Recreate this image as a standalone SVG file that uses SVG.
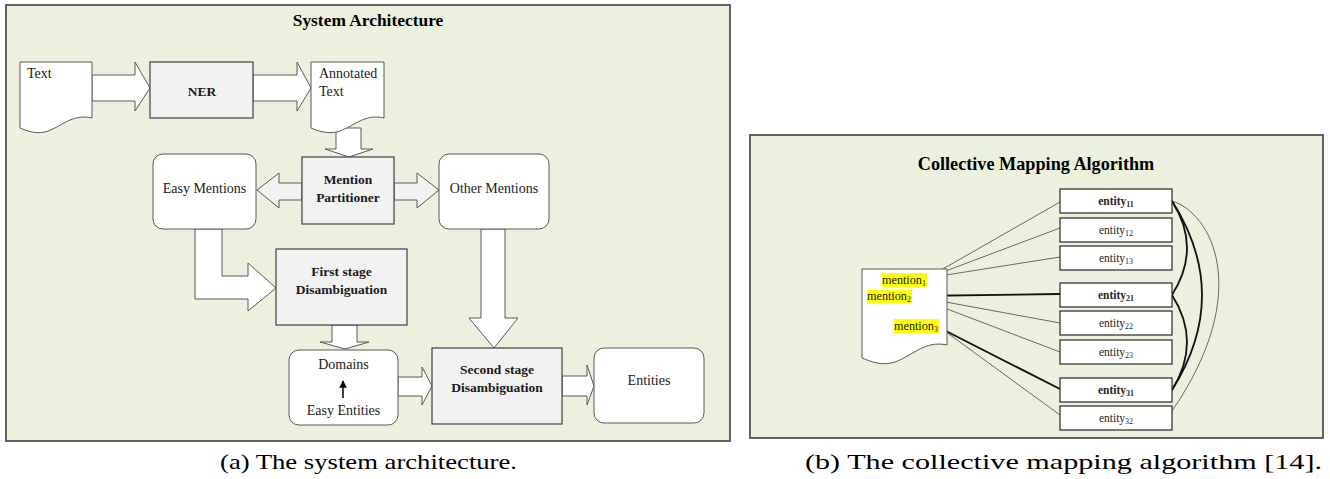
<svg xmlns="http://www.w3.org/2000/svg" width="1330" height="479" viewBox="0 0 1330 479">
<defs>
<style>
.panel{fill:#ebf1de;stroke:#3f3f3f;stroke-width:1.6}
.blk{fill:#ffffff;stroke:#595959;stroke-width:1}
.gblk{fill:#f2f2f2;stroke:#595959;stroke-width:1}
.box{fill:#f2f2f2;stroke:#404040;stroke-width:1.2}
.rbox{fill:#ffffff;stroke:#595959;stroke-width:1}
.doc{fill:#ffffff;stroke:#595959;stroke-width:1}
.t{font-family:"Liberation Serif","Times New Roman",serif;font-size:14px;fill:#1a1a1a}
.b{font-family:"Liberation Serif","Times New Roman",serif;font-size:13.5px;font-weight:bold;fill:#1a1a1a}
.ttl{font-family:"Liberation Serif","Times New Roman",serif;font-weight:bold;fill:#000}
.ent{fill:#ffffff;stroke:#262626;stroke-width:1.2}
.et{font-family:"Liberation Serif","Times New Roman",serif;font-size:11.5px;fill:#262626}
.mt{font-family:"Liberation Serif","Times New Roman",serif;font-size:12.2px;fill:#1a1a1a}
.hl{fill:#ffff00}
.thin{fill:none;stroke:#595959;stroke-width:0.9}
.thick{fill:none;stroke:#111111;stroke-width:1.8}
.cap{font-family:"Liberation Serif","Times New Roman",serif;font-size:21px;fill:#000}
</style>
<marker id="ah" viewBox="0 0 10 10" refX="9" refY="5" markerWidth="5" markerHeight="5" orient="auto">
<path d="M0,0 L10,5 L0,10 Z" fill="#000"/>
</marker>
</defs>

<!-- Panel (a) -->
<rect class="panel" x="6" y="5" width="724" height="436"/>
<text class="ttl" x="368" y="26" font-size="17.4" text-anchor="middle">System Architecture</text>

<g id="connectors-a">
<polygon class="blk" points="92,75 135,75 135,62 150,88 135,111 135,101 92,101"/>
<polygon class="blk" points="253,75 297,75 297,62 311,88 297,111 297,101 253,101"/>
<polygon class="blk" points="336,128 361,128 361,149 373,149 349,157 325,149 336,149"/>
<polygon class="gblk" points="302,183 279,183 279,173 257,190 279,208 279,200 302,200"/>
<polygon class="gblk" points="394,183 417,183 417,173 439,190 417,208 417,200 394,200"/>
<polygon class="blk" points="195,229 222,229 222,276 248,276 248,263 276,288 248,311 248,299 195,299"/>
<polygon class="blk" points="332,325 357,325 357,342 369,342 345,349 320,342 332,342"/>
<polygon class="blk" points="398,377 422,377 422,367 432,386 422,405 422,396 398,396"/>
<polygon class="blk" points="481,229 505,229 505,318 518,318 494,348 469,318 481,318"/>
<polygon class="blk" points="562,376 587,376 587,365 594,386 587,405 587,396 562,396"/>
</g>

<g id="text-doc">
<path class="doc" d="M20,62 H92 V118 C72,113 60,128 45,132 C35,134 27,131 20,128 Z"/>
<text class="t" x="27" y="78">Text</text>
</g>
<g id="ner">
<rect class="box" x="150" y="62" width="103" height="56"/>
<text class="b" x="202" y="96" text-anchor="middle">NER</text>
</g>
<g id="annotated-text">
<path class="doc" d="M311,62 H384 V118 C364,113 352,128 337,132 C327,134 318,131 311,128 Z"/>
<text class="t" x="319" y="78">Annotated</text>
<text class="t" x="319" y="96">Text</text>
</g>
<g id="mention-partitioner">
<rect class="box" x="302" y="157" width="92" height="67"/>
<text class="b" x="348" y="184" text-anchor="middle">Mention</text>
<text class="b" x="348" y="202" text-anchor="middle">Partitioner</text>
</g>
<g id="easy-mentions">
<rect class="rbox" x="153" y="154" width="103" height="75" rx="10"/>
<text class="t" x="204.5" y="193" text-anchor="middle">Easy Mentions</text>
</g>
<g id="other-mentions">
<rect class="rbox" x="439" y="154" width="110" height="75" rx="10"/>
<text class="t" x="494" y="193" text-anchor="middle">Other Mentions</text>
</g>
<g id="first-stage">
<rect class="box" x="276" y="249" width="131" height="76"/>
<text class="b" x="341.5" y="276" text-anchor="middle">First stage</text>
<text class="b" x="341.5" y="294" text-anchor="middle">Disambiguation</text>
</g>
<g id="domains">
<rect class="rbox" x="289" y="350" width="109" height="75" rx="10"/>
<text class="t" x="343.5" y="369" text-anchor="middle">Domains</text>
<line x1="343" y1="398" x2="343" y2="381" stroke="#000" stroke-width="1.5" marker-end="url(#ah)"/>
<text class="t" x="343.5" y="415" text-anchor="middle">Easy Entities</text>
</g>
<g id="second-stage">
<rect class="box" x="432" y="348" width="130" height="76"/>
<text class="b" x="497" y="374" text-anchor="middle">Second stage</text>
<text class="b" x="497" y="392" text-anchor="middle">Disambiguation</text>
</g>
<g id="entities">
<rect class="rbox" x="594" y="348" width="110" height="75" rx="10"/>
<text class="t" x="649" y="385" text-anchor="middle">Entities</text>
</g>

<!-- Panel (b) -->
<rect class="panel" x="750" y="135" width="573" height="303"/>
<text class="ttl" x="1036" y="170" font-size="18.2" text-anchor="middle">Collective Mapping Algorithm</text>

<g id="connectors-b">
<line class="thin" x1="927" y1="278" x2="1060" y2="202"/>
<line class="thin" x1="927" y1="278" x2="1060" y2="228"/>
<line class="thin" x1="927" y1="278" x2="1060" y2="257"/>
<line class="thick" x1="913" y1="296" x2="1060" y2="294"/>
<line class="thin" x1="913" y1="296" x2="1060" y2="323"/>
<line class="thin" x1="913" y1="296" x2="1060" y2="352"/>
<line class="thick" x1="942" y1="329" x2="1060" y2="389"/>
<line class="thin" x1="942" y1="329" x2="1060" y2="415"/>
<path class="thick" d="M1172,201 Q1202,248 1172,295"/>
<path class="thick" d="M1172,295 Q1202,342 1172,390"/>
<path class="thick" d="M1172,201 Q1232,295 1172,390"/>
<path class="thin" d="M1172,201 C1210,212 1255,290 1172,411"/>
</g>

<g id="mentions-doc">
<path class="doc" d="M862,269 H947 V345 C925,340 912,356 895,362 C882,366 872,362 862,358 Z"/>
<rect class="hl" x="882" y="273" width="45" height="14"/>
<text class="mt" x="882" y="284">mention<tspan font-size="8" dy="2">1</tspan></text>
<rect class="hl" x="867" y="290" width="45" height="13"/>
<text class="mt" x="867" y="300">mention<tspan font-size="8" dy="2">2</tspan></text>
<rect class="hl" x="894" y="319" width="45" height="14"/>
<text class="mt" x="894" y="330">mention<tspan font-size="8" dy="2">3</tspan></text>
</g>

<g id="entity11"><rect class="ent" x="1060" y="189" width="112" height="24"/><text class="et" x="1116" y="205" text-anchor="middle" font-weight="bold">entity<tspan font-size="8" dy="2">11</tspan></text></g>
<g id="entity12"><rect class="ent" x="1060" y="218" width="112" height="24"/><text class="et" x="1116" y="234" text-anchor="middle">entity<tspan font-size="8" dy="2">12</tspan></text></g>
<g id="entity13"><rect class="ent" x="1060" y="246" width="112" height="24"/><text class="et" x="1116" y="262" text-anchor="middle">entity<tspan font-size="8" dy="2">13</tspan></text></g>
<g id="entity21"><rect class="ent" x="1060" y="283" width="112" height="24"/><text class="et" x="1116" y="299" text-anchor="middle" font-weight="bold">entity<tspan font-size="8" dy="2">21</tspan></text></g>
<g id="entity22"><rect class="ent" x="1060" y="311" width="112" height="24"/><text class="et" x="1116" y="327" text-anchor="middle">entity<tspan font-size="8" dy="2">22</tspan></text></g>
<g id="entity23"><rect class="ent" x="1060" y="340" width="112" height="24"/><text class="et" x="1116" y="356" text-anchor="middle">entity<tspan font-size="8" dy="2">23</tspan></text></g>
<g id="entity31"><rect class="ent" x="1060" y="378" width="112" height="24"/><text class="et" x="1116" y="394" text-anchor="middle" font-weight="bold">entity<tspan font-size="8" dy="2">31</tspan></text></g>
<g id="entity32"><rect class="ent" x="1060" y="406" width="112" height="24"/><text class="et" x="1116" y="422" text-anchor="middle">entity<tspan font-size="8" dy="2">32</tspan></text></g>

<!-- Captions -->
<text class="cap" x="220" y="469" textLength="297" lengthAdjust="spacingAndGlyphs">(a) The system architecture.</text>
<text class="cap" x="805" y="469" textLength="517" lengthAdjust="spacingAndGlyphs">(b) The collective mapping algorithm  [14].</text>
</svg>
